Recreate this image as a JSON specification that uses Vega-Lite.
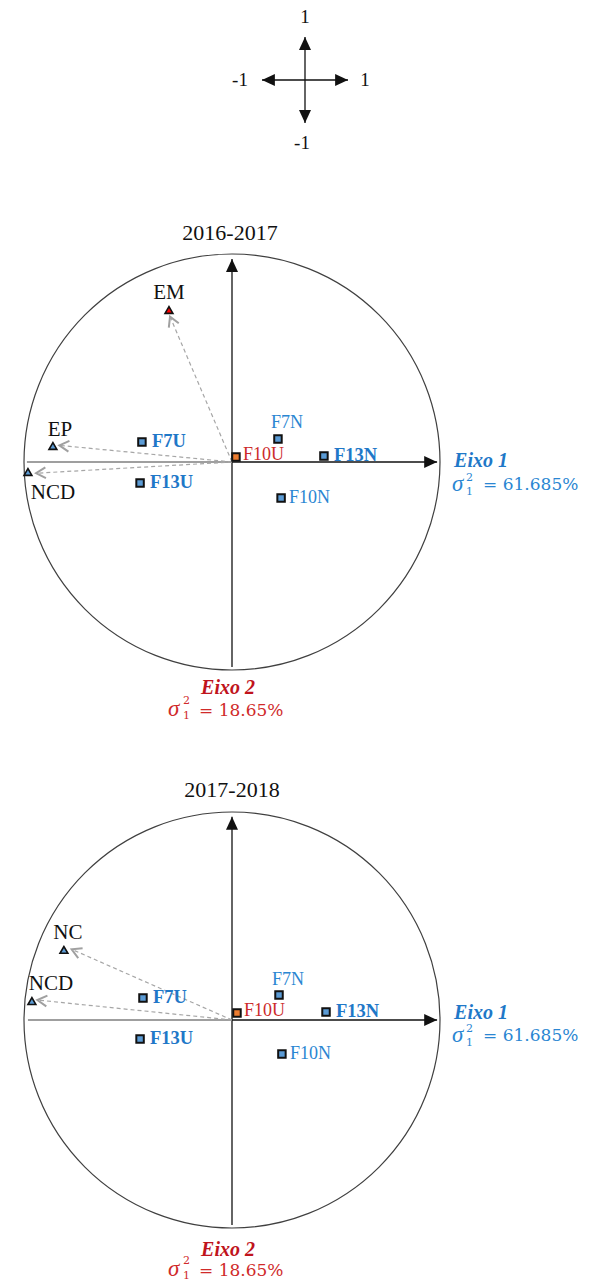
{
  "$schema": "https://vega.github.io/schema/vega-lite/v6.json",
  "padding": 0,
  "spacing": 0,
  "bounds": "flush",
  "background": "white",
  "config": {"view": {"stroke": null}, "concat": {"spacing": 0}},
  "resolve": {"scale": {"x": "independent", "y": "independent"}},
  "datasets": {
    "axesA": [{"x": -1, "y": 0, "x2": 1, "y2": 0}, {"x": 0, "y": -1, "x2": 0, "y2": 1}],
    "headsA": [{"x": 1, "y": 0, "dir": "right"}, {"x": -1, "y": 0, "dir": "left"}, {"x": 0, "y": 1, "dir": "up"}, {"x": 0, "y": -1, "dir": "down"}],
    "axes1": [{"x": -0.986, "y": 0, "x2": 0, "y2": 0}, {"x": 0, "y": 0, "x2": 0.986, "y2": 0}, {"x": 0, "y": -0.986, "x2": 0, "y2": 0.976}],
    "heads1": [{"x": 0.986, "y": 0, "dir": "right"}, {"x": 0, "y": 0.976, "dir": "up"}],
    "axes2": [{"x": -0.981, "y": 0, "x2": 0, "y2": 0}, {"x": 0, "y": 0, "x2": 0.986, "y2": 0}, {"x": 0, "y": -0.986, "x2": 0, "y2": 0.977}],
    "heads2": [{"x": 0.986, "y": 0, "dir": "right"}, {"x": 0, "y": 0.977, "dir": "up"}],
    "obs1": [
      {"name": "F7U", "x": -0.433, "y": 0.096},
      {"name": "F13U", "x": -0.442, "y": -0.101},
      {"name": "F10U", "x": 0.019, "y": 0.024},
      {"name": "F7N", "x": 0.221, "y": 0.111},
      {"name": "F13N", "x": 0.442, "y": 0.029},
      {"name": "F10N", "x": 0.236, "y": -0.173}
    ],
    "var1": [
      {"name": "EM", "x": -0.303, "y": 0.731, "hx": -0.298, "hy": 0.699, "ox": 0, "oy": 0},
      {"name": "EP", "x": -0.861, "y": 0.077, "hx": -0.83, "hy": 0.08, "ox": 0, "oy": 0},
      {"name": "NCD", "x": -0.981, "y": -0.048, "hx": -0.942, "hy": -0.054, "ox": 0, "oy": 0}
    ],
    "obs2": [
      {"name": "F7U", "x": -0.428, "y": 0.106},
      {"name": "F13U", "x": -0.442, "y": -0.091},
      {"name": "F10U", "x": 0.024, "y": 0.034},
      {"name": "F7N", "x": 0.226, "y": 0.12},
      {"name": "F13N", "x": 0.452, "y": 0.038},
      {"name": "F10N", "x": 0.24, "y": -0.163}
    ],
    "var2": [
      {"name": "NC", "x": -0.808, "y": 0.337, "hx": -0.771, "hy": 0.34, "ox": 0, "oy": 0},
      {"name": "NCD", "x": -0.962, "y": 0.091, "hx": -0.936, "hy": 0.096, "ox": 0, "oy": 0}
    ]
  },
  "vconcat": [
    {
      "width": 592, "height": 180,
      "layer": [
        {"data": {"name": "axesA"}, "mark": {"type": "rule", "color": "#111", "strokeWidth": 1.3},
         "encoding": {"x": {"field": "x", "type": "quantitative", "scale": {"domain": [-7.09302, 6.67442], "nice": false, "zero": false}, "axis": null},
                      "y": {"field": "y", "type": "quantitative", "scale": {"domain": [-2.32558, 1.86047], "nice": false, "zero": false}, "axis": null},
                      "x2": {"field": "x2"}, "y2": {"field": "y2"}}},
        {"data": {"name": "headsA"}, "mark": {"type": "point", "filled": true, "size": 36, "color": "#111", "opacity": 1},
         "encoding": {"x": {"field": "x", "type": "quantitative", "scale": {"domain": [-7.09302, 6.67442], "nice": false, "zero": false}, "axis": null},
                      "y": {"field": "y", "type": "quantitative", "scale": {"domain": [-2.32558, 1.86047], "nice": false, "zero": false}, "axis": null},
                      "shape": {"field": "dir", "type": "nominal", "legend": null, "scale": {"domain": ["right", "left", "up", "down"], "range": ["M0,0L-4.3,-2L-4.3,2Z", "M0,0L4.3,-2L4.3,2Z", "M0,0L-2,4.3L2,4.3Z", "M0,0L-2,-4.3L2,-4.3Z"]}}}},
        {"data": {"values": [{"t": "1"}]}, "mark": {"type": "text", "font": "Liberation Serif", "fontSize": 19, "color": "#111", "align": "center", "baseline": "middle", "dy": -20},
         "encoding": {"x": {"datum": 0, "type": "quantitative", "scale": {"domain": [-7.09302, 6.67442], "nice": false, "zero": false}, "axis": null},
                      "y": {"datum": 1, "type": "quantitative", "scale": {"domain": [-2.32558, 1.86047], "nice": false, "zero": false}, "axis": null},
                      "text": {"field": "t"}}},
        {"data": {"values": [{"t": "-1"}]}, "mark": {"type": "text", "font": "Liberation Serif", "fontSize": 19, "color": "#111", "align": "center", "baseline": "middle", "dx": -22},
         "encoding": {"x": {"datum": -1, "type": "quantitative", "scale": {"domain": [-7.09302, 6.67442], "nice": false, "zero": false}, "axis": null},
                      "y": {"datum": 0, "type": "quantitative", "scale": {"domain": [-2.32558, 1.86047], "nice": false, "zero": false}, "axis": null},
                      "text": {"field": "t"}}},
        {"data": {"values": [{"t": "1"}]}, "mark": {"type": "text", "font": "Liberation Serif", "fontSize": 19, "color": "#111", "align": "center", "baseline": "middle", "dx": 17},
         "encoding": {"x": {"datum": 1, "type": "quantitative", "scale": {"domain": [-7.09302, 6.67442], "nice": false, "zero": false}, "axis": null},
                      "y": {"datum": 0, "type": "quantitative", "scale": {"domain": [-2.32558, 1.86047], "nice": false, "zero": false}, "axis": null},
                      "text": {"field": "t"}}},
        {"data": {"values": [{"t": "-1"}]}, "mark": {"type": "text", "font": "Liberation Serif", "fontSize": 19, "color": "#111", "align": "center", "baseline": "middle", "dy": 20, "dx": -3},
         "encoding": {"x": {"datum": 0, "type": "quantitative", "scale": {"domain": [-7.09302, 6.67442], "nice": false, "zero": false}, "axis": null},
                      "y": {"datum": -1, "type": "quantitative", "scale": {"domain": [-2.32558, 1.86047], "nice": false, "zero": false}, "axis": null},
                      "text": {"field": "t"}}}
      ]
    },
    {
      "width": 592, "height": 555,
      "layer": [
        {"data": {"values": [{"x": 0, "y": 0}]}, "mark": {"type": "point", "shape": "circle", "size": 173056, "filled": false, "stroke": "#404040", "strokeWidth": 1.2, "opacity": 1},
         "encoding": {"x": {"field": "x", "type": "quantitative", "scale": {"domain": [-1.11538, 1.73077], "nice": false, "zero": false}, "axis": null},
                      "y": {"field": "y", "type": "quantitative", "scale": {"domain": [-1.3125, 1.35577], "nice": false, "zero": false}, "axis": null}}},
        {"data": {"name": "axes1"}, "mark": {"type": "rule", "strokeWidth": 1.3},
         "encoding": {"x": {"field": "x", "type": "quantitative", "scale": {"domain": [-1.11538, 1.73077], "nice": false, "zero": false}, "axis": null},
                      "y": {"field": "y", "type": "quantitative", "scale": {"domain": [-1.3125, 1.35577], "nice": false, "zero": false}, "axis": null},
                      "x2": {"field": "x2"}, "y2": {"field": "y2"},
                      "color": {"condition": {"test": "datum.x < 0", "value": "#7f7f7f"}, "value": "#111"}}},
        {"data": {"name": "heads1"}, "mark": {"type": "point", "filled": true, "size": 36, "color": "#111", "opacity": 1},
         "encoding": {"x": {"field": "x", "type": "quantitative", "scale": {"domain": [-1.11538, 1.73077], "nice": false, "zero": false}, "axis": null},
                      "y": {"field": "y", "type": "quantitative", "scale": {"domain": [-1.3125, 1.35577], "nice": false, "zero": false}, "axis": null},
                      "shape": {"field": "dir", "type": "nominal", "legend": null, "scale": {"domain": ["right", "left", "up", "down"], "range": ["M0,0L-4.3,-2L-4.3,2Z", "M0,0L4.3,-2L4.3,2Z", "M0,0L-2,4.3L2,4.3Z", "M0,0L-2,-4.3L2,-4.3Z"]}}}},
        {"data": {"name": "var1"}, "mark": {"type": "rule", "color": "#a6a6a6", "strokeWidth": 1.2, "strokeDash": [4, 3]},
         "encoding": {"x": {"field": "ox", "type": "quantitative", "scale": {"domain": [-1.11538, 1.73077], "nice": false, "zero": false}, "axis": null},
                      "y": {"field": "oy", "type": "quantitative", "scale": {"domain": [-1.3125, 1.35577], "nice": false, "zero": false}, "axis": null},
                      "x2": {"field": "hx"}, "y2": {"field": "hy"}}},
        {"data": {"name": "var1"}, "transform": [{"calculate": "-atan2(datum.hy, datum.hx) * 180 / PI", "as": "ang"}],
         "mark": {"type": "point", "shape": "M-3.2,-1.8L0,0L-3.2,1.8", "filled": false, "size": 36, "stroke": "#a0a0a0", "strokeWidth": 2, "opacity": 1},
         "encoding": {"x": {"field": "hx", "type": "quantitative", "scale": {"domain": [-1.11538, 1.73077], "nice": false, "zero": false}, "axis": null},
                      "y": {"field": "hy", "type": "quantitative", "scale": {"domain": [-1.3125, 1.35577], "nice": false, "zero": false}, "axis": null},
                      "angle": {"field": "ang", "type": "quantitative", "scale": null}}},
        {"data": {"name": "obs1"}, "mark": {"type": "point", "shape": "square", "filled": true, "size": 56, "stroke": "#111", "strokeWidth": 2, "opacity": 1},
         "encoding": {"x": {"field": "x", "type": "quantitative", "scale": {"domain": [-1.11538, 1.73077], "nice": false, "zero": false}, "axis": null},
                      "y": {"field": "y", "type": "quantitative", "scale": {"domain": [-1.3125, 1.35577], "nice": false, "zero": false}, "axis": null},
                      "fill": {"condition": {"test": "datum.name === 'F10U'", "value": "#ED7D31"}, "value": "#5B9BD5"}}},
        {"data": {"name": "var1"}, "mark": {"type": "point", "shape": "triangle-up", "filled": true, "size": 62, "stroke": "#111", "strokeWidth": 1.6, "opacity": 1},
         "encoding": {"x": {"field": "x", "type": "quantitative", "scale": {"domain": [-1.11538, 1.73077], "nice": false, "zero": false}, "axis": null},
                      "y": {"field": "y", "type": "quantitative", "scale": {"domain": [-1.3125, 1.35577], "nice": false, "zero": false}, "axis": null},
                      "fill": {"condition": {"test": "datum.name === 'EM'", "value": "#FF0000"}, "value": "#5B9BD5"}}},
        {"data": {"name": "obs1"}, "transform": [{"filter": {"field": "name", "oneOf": ["F7U", "F13U", "F13N"]}}],
         "mark": {"type": "text", "font": "Liberation Serif", "fontSize": 18.5, "fontWeight": "bold", "color": "#1f78c8", "align": "left", "baseline": "middle", "dx": 10, "dy": -1},
         "encoding": {"x": {"field": "x", "type": "quantitative", "scale": {"domain": [-1.11538, 1.73077], "nice": false, "zero": false}, "axis": null},
                      "y": {"field": "y", "type": "quantitative", "scale": {"domain": [-1.3125, 1.35577], "nice": false, "zero": false}, "axis": null},
                      "text": {"field": "name"}}},
        {"data": {"name": "obs1"}, "transform": [{"filter": {"field": "name", "oneOf": ["F10N"]}}],
         "mark": {"type": "text", "font": "Liberation Serif", "fontSize": 18, "color": "#2a86d2", "align": "left", "baseline": "middle", "dx": 8},
         "encoding": {"x": {"field": "x", "type": "quantitative", "scale": {"domain": [-1.11538, 1.73077], "nice": false, "zero": false}, "axis": null},
                      "y": {"field": "y", "type": "quantitative", "scale": {"domain": [-1.3125, 1.35577], "nice": false, "zero": false}, "axis": null},
                      "text": {"field": "name"}}},
        {"data": {"name": "obs1"}, "transform": [{"filter": {"field": "name", "oneOf": ["F10U"]}}],
         "mark": {"type": "text", "font": "Liberation Serif", "fontSize": 18, "color": "#cc2a2a", "align": "left", "baseline": "middle", "dx": 7, "dy": -2},
         "encoding": {"x": {"field": "x", "type": "quantitative", "scale": {"domain": [-1.11538, 1.73077], "nice": false, "zero": false}, "axis": null},
                      "y": {"field": "y", "type": "quantitative", "scale": {"domain": [-1.3125, 1.35577], "nice": false, "zero": false}, "axis": null},
                      "text": {"field": "name"}}},
        {"data": {"name": "obs1"}, "transform": [{"filter": {"field": "name", "oneOf": ["F7N"]}}],
         "mark": {"type": "text", "font": "Liberation Serif", "fontSize": 18, "color": "#2a86d2", "align": "left", "baseline": "middle", "dx": -7, "dy": -16},
         "encoding": {"x": {"field": "x", "type": "quantitative", "scale": {"domain": [-1.11538, 1.73077], "nice": false, "zero": false}, "axis": null},
                      "y": {"field": "y", "type": "quantitative", "scale": {"domain": [-1.3125, 1.35577], "nice": false, "zero": false}, "axis": null},
                      "text": {"field": "name"}}},
        {"data": {"name": "var1"}, "transform": [{"filter": {"field": "name", "oneOf": ["EM"]}}],
         "mark": {"type": "text", "font": "Liberation Serif", "fontSize": 21, "color": "#111", "align": "center", "baseline": "middle", "dx": 0, "dy": -17},
         "encoding": {"x": {"field": "x", "type": "quantitative", "scale": {"domain": [-1.11538, 1.73077], "nice": false, "zero": false}, "axis": null},
                      "y": {"field": "y", "type": "quantitative", "scale": {"domain": [-1.3125, 1.35577], "nice": false, "zero": false}, "axis": null},
                      "text": {"field": "name"}}},
        {"data": {"name": "var1"}, "transform": [{"filter": {"field": "name", "oneOf": ["EP"]}}],
         "mark": {"type": "text", "font": "Liberation Serif", "fontSize": 21, "color": "#111", "align": "center", "baseline": "middle", "dx": 7, "dy": -16},
         "encoding": {"x": {"field": "x", "type": "quantitative", "scale": {"domain": [-1.11538, 1.73077], "nice": false, "zero": false}, "axis": null},
                      "y": {"field": "y", "type": "quantitative", "scale": {"domain": [-1.3125, 1.35577], "nice": false, "zero": false}, "axis": null},
                      "text": {"field": "name"}}},
        {"data": {"name": "var1"}, "transform": [{"filter": {"field": "name", "oneOf": ["NCD"]}}],
         "mark": {"type": "text", "font": "Liberation Serif", "fontSize": 21, "color": "#111", "align": "center", "baseline": "middle", "dx": 25, "dy": 21},
         "encoding": {"x": {"field": "x", "type": "quantitative", "scale": {"domain": [-1.11538, 1.73077], "nice": false, "zero": false}, "axis": null},
                      "y": {"field": "y", "type": "quantitative", "scale": {"domain": [-1.3125, 1.35577], "nice": false, "zero": false}, "axis": null},
                      "text": {"field": "name"}}},
        {"data": {"values": [{"t": "2016-2017"}]}, "mark": {"type": "text", "font": "Liberation Serif", "fontSize": 22, "color": "#111", "align": "center", "baseline": "middle", "dx": -2, "dy": -21},
         "encoding": {"x": {"datum": 0, "type": "quantitative", "scale": {"domain": [-1.11538, 1.73077], "nice": false, "zero": false}, "axis": null},
                      "y": {"datum": 1, "type": "quantitative", "scale": {"domain": [-1.3125, 1.35577], "nice": false, "zero": false}, "axis": null},
                      "text": {"field": "t"}}},
        {"data": {"values": [{"t": "Eixo 1"}]}, "mark": {"type": "text", "font": "Liberation Serif", "fontSize": 20, "fontWeight": "bold", "fontStyle": "italic", "color": "#1f78c8", "align": "left", "baseline": "middle", "dx": 17, "dy": -1},
         "encoding": {"x": {"datum": 0.986, "type": "quantitative", "scale": {"domain": [-1.11538, 1.73077], "nice": false, "zero": false}, "axis": null},
                      "y": {"datum": 0, "type": "quantitative", "scale": {"domain": [-1.3125, 1.35577], "nice": false, "zero": false}, "axis": null},
                      "text": {"field": "t"}}},
        {"data": {"values": [{"t": "σ"}]}, "mark": {"type": "text", "font": "Liberation Serif", "fontSize": 23, "fontStyle": "italic", "color": "#2a86d2", "align": "left", "baseline": "middle", "dx": 15, "dy": 22},
         "encoding": {"x": {"datum": 0.986, "type": "quantitative", "scale": {"domain": [-1.11538, 1.73077], "nice": false, "zero": false}, "axis": null},
                      "y": {"datum": 0, "type": "quantitative", "scale": {"domain": [-1.3125, 1.35577], "nice": false, "zero": false}, "axis": null},
                      "text": {"field": "t"}}},
        {"data": {"values": [{"t": "2"}]}, "mark": {"type": "text", "font": "DejaVu Serif", "fontSize": 11, "color": "#2a86d2", "align": "left", "baseline": "middle", "dx": 29, "dy": 16},
         "encoding": {"x": {"datum": 0.986, "type": "quantitative", "scale": {"domain": [-1.11538, 1.73077], "nice": false, "zero": false}, "axis": null},
                      "y": {"datum": 0, "type": "quantitative", "scale": {"domain": [-1.3125, 1.35577], "nice": false, "zero": false}, "axis": null},
                      "text": {"field": "t"}}},
        {"data": {"values": [{"t": "1"}]}, "mark": {"type": "text", "font": "DejaVu Serif", "fontSize": 11, "color": "#2a86d2", "align": "left", "baseline": "middle", "dx": 29, "dy": 30},
         "encoding": {"x": {"datum": 0.986, "type": "quantitative", "scale": {"domain": [-1.11538, 1.73077], "nice": false, "zero": false}, "axis": null},
                      "y": {"datum": 0, "type": "quantitative", "scale": {"domain": [-1.3125, 1.35577], "nice": false, "zero": false}, "axis": null},
                      "text": {"field": "t"}}},
        {"data": {"values": [{"t": "= 61.685%"}]}, "mark": {"type": "text", "font": "DejaVu Serif", "fontSize": 17, "color": "#2a86d2", "align": "left", "baseline": "middle", "dx": 46, "dy": 23},
         "encoding": {"x": {"datum": 0.986, "type": "quantitative", "scale": {"domain": [-1.11538, 1.73077], "nice": false, "zero": false}, "axis": null},
                      "y": {"datum": 0, "type": "quantitative", "scale": {"domain": [-1.3125, 1.35577], "nice": false, "zero": false}, "axis": null},
                      "text": {"field": "t"}}},
        {"data": {"values": [{"t": "Eixo 2"}]}, "mark": {"type": "text", "font": "Liberation Serif", "fontSize": 20, "fontWeight": "bold", "fontStyle": "italic", "color": "#c0141c", "align": "center", "baseline": "middle", "dx": -4, "dy": 18},
         "encoding": {"x": {"datum": 0, "type": "quantitative", "scale": {"domain": [-1.11538, 1.73077], "nice": false, "zero": false}, "axis": null},
                      "y": {"datum": -1, "type": "quantitative", "scale": {"domain": [-1.3125, 1.35577], "nice": false, "zero": false}, "axis": null},
                      "text": {"field": "t"}}},
        {"data": {"values": [{"t": "σ"}]}, "mark": {"type": "text", "font": "Liberation Serif", "fontSize": 23, "fontStyle": "italic", "color": "#d02a2a", "align": "left", "baseline": "middle", "dx": -64, "dy": 39},
         "encoding": {"x": {"datum": 0, "type": "quantitative", "scale": {"domain": [-1.11538, 1.73077], "nice": false, "zero": false}, "axis": null},
                      "y": {"datum": -1, "type": "quantitative", "scale": {"domain": [-1.3125, 1.35577], "nice": false, "zero": false}, "axis": null},
                      "text": {"field": "t"}}},
        {"data": {"values": [{"t": "2"}]}, "mark": {"type": "text", "font": "DejaVu Serif", "fontSize": 11, "color": "#d02a2a", "align": "left", "baseline": "middle", "dx": -49, "dy": 31},
         "encoding": {"x": {"datum": 0, "type": "quantitative", "scale": {"domain": [-1.11538, 1.73077], "nice": false, "zero": false}, "axis": null},
                      "y": {"datum": -1, "type": "quantitative", "scale": {"domain": [-1.3125, 1.35577], "nice": false, "zero": false}, "axis": null},
                      "text": {"field": "t"}}},
        {"data": {"values": [{"t": "1"}]}, "mark": {"type": "text", "font": "DejaVu Serif", "fontSize": 11, "color": "#d02a2a", "align": "left", "baseline": "middle", "dx": -49, "dy": 46},
         "encoding": {"x": {"datum": 0, "type": "quantitative", "scale": {"domain": [-1.11538, 1.73077], "nice": false, "zero": false}, "axis": null},
                      "y": {"datum": -1, "type": "quantitative", "scale": {"domain": [-1.3125, 1.35577], "nice": false, "zero": false}, "axis": null},
                      "text": {"field": "t"}}},
        {"data": {"values": [{"t": "= 18.65%"}]}, "mark": {"type": "text", "font": "DejaVu Serif", "fontSize": 17, "color": "#d02a2a", "align": "left", "baseline": "middle", "dx": -33, "dy": 41},
         "encoding": {"x": {"datum": 0, "type": "quantitative", "scale": {"domain": [-1.11538, 1.73077], "nice": false, "zero": false}, "axis": null},
                      "y": {"datum": -1, "type": "quantitative", "scale": {"domain": [-1.3125, 1.35577], "nice": false, "zero": false}, "axis": null},
                      "text": {"field": "t"}}}
      ]
    },
    {
      "width": 592, "height": 552,
      "layer": [
        {"data": {"values": [{"x": 0, "y": 0}]}, "mark": {"type": "point", "shape": "circle", "size": 173056, "filled": false, "stroke": "#404040", "strokeWidth": 1.2, "opacity": 1},
         "encoding": {"x": {"field": "x", "type": "quantitative", "scale": {"domain": [-1.11538, 1.73077], "nice": false, "zero": false}, "axis": null},
                      "y": {"field": "y", "type": "quantitative", "scale": {"domain": [-1.28365, 1.37019], "nice": false, "zero": false}, "axis": null}}},
        {"data": {"name": "axes2"}, "mark": {"type": "rule", "strokeWidth": 1.3},
         "encoding": {"x": {"field": "x", "type": "quantitative", "scale": {"domain": [-1.11538, 1.73077], "nice": false, "zero": false}, "axis": null},
                      "y": {"field": "y", "type": "quantitative", "scale": {"domain": [-1.28365, 1.37019], "nice": false, "zero": false}, "axis": null},
                      "x2": {"field": "x2"}, "y2": {"field": "y2"},
                      "color": {"condition": {"test": "datum.x < 0", "value": "#7f7f7f"}, "value": "#111"}}},
        {"data": {"name": "heads2"}, "mark": {"type": "point", "filled": true, "size": 36, "color": "#111", "opacity": 1},
         "encoding": {"x": {"field": "x", "type": "quantitative", "scale": {"domain": [-1.11538, 1.73077], "nice": false, "zero": false}, "axis": null},
                      "y": {"field": "y", "type": "quantitative", "scale": {"domain": [-1.28365, 1.37019], "nice": false, "zero": false}, "axis": null},
                      "shape": {"field": "dir", "type": "nominal", "legend": null, "scale": {"domain": ["right", "left", "up", "down"], "range": ["M0,0L-4.3,-2L-4.3,2Z", "M0,0L4.3,-2L4.3,2Z", "M0,0L-2,4.3L2,4.3Z", "M0,0L-2,-4.3L2,-4.3Z"]}}}},
        {"data": {"name": "var2"}, "mark": {"type": "rule", "color": "#a6a6a6", "strokeWidth": 1.2, "strokeDash": [4, 3]},
         "encoding": {"x": {"field": "ox", "type": "quantitative", "scale": {"domain": [-1.11538, 1.73077], "nice": false, "zero": false}, "axis": null},
                      "y": {"field": "oy", "type": "quantitative", "scale": {"domain": [-1.28365, 1.37019], "nice": false, "zero": false}, "axis": null},
                      "x2": {"field": "hx"}, "y2": {"field": "hy"}}},
        {"data": {"name": "var2"}, "transform": [{"calculate": "-atan2(datum.hy, datum.hx) * 180 / PI", "as": "ang"}],
         "mark": {"type": "point", "shape": "M-3.2,-1.8L0,0L-3.2,1.8", "filled": false, "size": 36, "stroke": "#a0a0a0", "strokeWidth": 2, "opacity": 1},
         "encoding": {"x": {"field": "hx", "type": "quantitative", "scale": {"domain": [-1.11538, 1.73077], "nice": false, "zero": false}, "axis": null},
                      "y": {"field": "hy", "type": "quantitative", "scale": {"domain": [-1.28365, 1.37019], "nice": false, "zero": false}, "axis": null},
                      "angle": {"field": "ang", "type": "quantitative", "scale": null}}},
        {"data": {"name": "obs2"}, "mark": {"type": "point", "shape": "square", "filled": true, "size": 56, "stroke": "#111", "strokeWidth": 2, "opacity": 1},
         "encoding": {"x": {"field": "x", "type": "quantitative", "scale": {"domain": [-1.11538, 1.73077], "nice": false, "zero": false}, "axis": null},
                      "y": {"field": "y", "type": "quantitative", "scale": {"domain": [-1.28365, 1.37019], "nice": false, "zero": false}, "axis": null},
                      "fill": {"condition": {"test": "datum.name === 'F10U'", "value": "#ED7D31"}, "value": "#5B9BD5"}}},
        {"data": {"name": "var2"}, "mark": {"type": "point", "shape": "triangle-up", "filled": true, "size": 62, "stroke": "#111", "strokeWidth": 1.6, "opacity": 1, "fill": "#5B9BD5"},
         "encoding": {"x": {"field": "x", "type": "quantitative", "scale": {"domain": [-1.11538, 1.73077], "nice": false, "zero": false}, "axis": null},
                      "y": {"field": "y", "type": "quantitative", "scale": {"domain": [-1.28365, 1.37019], "nice": false, "zero": false}, "axis": null}}},
        {"data": {"name": "obs2"}, "transform": [{"filter": {"field": "name", "oneOf": ["F7U", "F13U", "F13N"]}}],
         "mark": {"type": "text", "font": "Liberation Serif", "fontSize": 18.5, "fontWeight": "bold", "color": "#1f78c8", "align": "left", "baseline": "middle", "dx": 10, "dy": -1},
         "encoding": {"x": {"field": "x", "type": "quantitative", "scale": {"domain": [-1.11538, 1.73077], "nice": false, "zero": false}, "axis": null},
                      "y": {"field": "y", "type": "quantitative", "scale": {"domain": [-1.28365, 1.37019], "nice": false, "zero": false}, "axis": null},
                      "text": {"field": "name"}}},
        {"data": {"name": "obs2"}, "transform": [{"filter": {"field": "name", "oneOf": ["F10N"]}}],
         "mark": {"type": "text", "font": "Liberation Serif", "fontSize": 18, "color": "#2a86d2", "align": "left", "baseline": "middle", "dx": 8},
         "encoding": {"x": {"field": "x", "type": "quantitative", "scale": {"domain": [-1.11538, 1.73077], "nice": false, "zero": false}, "axis": null},
                      "y": {"field": "y", "type": "quantitative", "scale": {"domain": [-1.28365, 1.37019], "nice": false, "zero": false}, "axis": null},
                      "text": {"field": "name"}}},
        {"data": {"name": "obs2"}, "transform": [{"filter": {"field": "name", "oneOf": ["F10U"]}}],
         "mark": {"type": "text", "font": "Liberation Serif", "fontSize": 18, "color": "#cc2a2a", "align": "left", "baseline": "middle", "dx": 7, "dy": -2},
         "encoding": {"x": {"field": "x", "type": "quantitative", "scale": {"domain": [-1.11538, 1.73077], "nice": false, "zero": false}, "axis": null},
                      "y": {"field": "y", "type": "quantitative", "scale": {"domain": [-1.28365, 1.37019], "nice": false, "zero": false}, "axis": null},
                      "text": {"field": "name"}}},
        {"data": {"name": "obs2"}, "transform": [{"filter": {"field": "name", "oneOf": ["F7N"]}}],
         "mark": {"type": "text", "font": "Liberation Serif", "fontSize": 18, "color": "#2a86d2", "align": "left", "baseline": "middle", "dx": -7, "dy": -15},
         "encoding": {"x": {"field": "x", "type": "quantitative", "scale": {"domain": [-1.11538, 1.73077], "nice": false, "zero": false}, "axis": null},
                      "y": {"field": "y", "type": "quantitative", "scale": {"domain": [-1.28365, 1.37019], "nice": false, "zero": false}, "axis": null},
                      "text": {"field": "name"}}},
        {"data": {"name": "var2"}, "transform": [{"filter": {"field": "name", "oneOf": ["NC"]}}],
         "mark": {"type": "text", "font": "Liberation Serif", "fontSize": 21, "color": "#111", "align": "center", "baseline": "middle", "dx": 4, "dy": -17},
         "encoding": {"x": {"field": "x", "type": "quantitative", "scale": {"domain": [-1.11538, 1.73077], "nice": false, "zero": false}, "axis": null},
                      "y": {"field": "y", "type": "quantitative", "scale": {"domain": [-1.28365, 1.37019], "nice": false, "zero": false}, "axis": null},
                      "text": {"field": "name"}}},
        {"data": {"name": "var2"}, "transform": [{"filter": {"field": "name", "oneOf": ["NCD"]}}],
         "mark": {"type": "text", "font": "Liberation Serif", "fontSize": 21, "color": "#111", "align": "center", "baseline": "middle", "dx": 19, "dy": -17},
         "encoding": {"x": {"field": "x", "type": "quantitative", "scale": {"domain": [-1.11538, 1.73077], "nice": false, "zero": false}, "axis": null},
                      "y": {"field": "y", "type": "quantitative", "scale": {"domain": [-1.28365, 1.37019], "nice": false, "zero": false}, "axis": null},
                      "text": {"field": "name"}}},
        {"data": {"values": [{"t": "2017-2018"}]}, "mark": {"type": "text", "font": "Liberation Serif", "fontSize": 22, "color": "#111", "align": "center", "baseline": "middle", "dx": 0, "dy": -22},
         "encoding": {"x": {"datum": 0, "type": "quantitative", "scale": {"domain": [-1.11538, 1.73077], "nice": false, "zero": false}, "axis": null},
                      "y": {"datum": 1, "type": "quantitative", "scale": {"domain": [-1.28365, 1.37019], "nice": false, "zero": false}, "axis": null},
                      "text": {"field": "t"}}},
        {"data": {"values": [{"t": "Eixo 1"}]}, "mark": {"type": "text", "font": "Liberation Serif", "fontSize": 20, "fontWeight": "bold", "fontStyle": "italic", "color": "#1f78c8", "align": "left", "baseline": "middle", "dx": 17, "dy": -7},
         "encoding": {"x": {"datum": 0.986, "type": "quantitative", "scale": {"domain": [-1.11538, 1.73077], "nice": false, "zero": false}, "axis": null},
                      "y": {"datum": 0, "type": "quantitative", "scale": {"domain": [-1.28365, 1.37019], "nice": false, "zero": false}, "axis": null},
                      "text": {"field": "t"}}},
        {"data": {"values": [{"t": "σ"}]}, "mark": {"type": "text", "font": "Liberation Serif", "fontSize": 23, "fontStyle": "italic", "color": "#2a86d2", "align": "left", "baseline": "middle", "dx": 15, "dy": 15},
         "encoding": {"x": {"datum": 0.986, "type": "quantitative", "scale": {"domain": [-1.11538, 1.73077], "nice": false, "zero": false}, "axis": null},
                      "y": {"datum": 0, "type": "quantitative", "scale": {"domain": [-1.28365, 1.37019], "nice": false, "zero": false}, "axis": null},
                      "text": {"field": "t"}}},
        {"data": {"values": [{"t": "2"}]}, "mark": {"type": "text", "font": "DejaVu Serif", "fontSize": 11, "color": "#2a86d2", "align": "left", "baseline": "middle", "dx": 29, "dy": 9},
         "encoding": {"x": {"datum": 0.986, "type": "quantitative", "scale": {"domain": [-1.11538, 1.73077], "nice": false, "zero": false}, "axis": null},
                      "y": {"datum": 0, "type": "quantitative", "scale": {"domain": [-1.28365, 1.37019], "nice": false, "zero": false}, "axis": null},
                      "text": {"field": "t"}}},
        {"data": {"values": [{"t": "1"}]}, "mark": {"type": "text", "font": "DejaVu Serif", "fontSize": 11, "color": "#2a86d2", "align": "left", "baseline": "middle", "dx": 29, "dy": 23},
         "encoding": {"x": {"datum": 0.986, "type": "quantitative", "scale": {"domain": [-1.11538, 1.73077], "nice": false, "zero": false}, "axis": null},
                      "y": {"datum": 0, "type": "quantitative", "scale": {"domain": [-1.28365, 1.37019], "nice": false, "zero": false}, "axis": null},
                      "text": {"field": "t"}}},
        {"data": {"values": [{"t": "= 61.685%"}]}, "mark": {"type": "text", "font": "DejaVu Serif", "fontSize": 17, "color": "#2a86d2", "align": "left", "baseline": "middle", "dx": 46, "dy": 16},
         "encoding": {"x": {"datum": 0.986, "type": "quantitative", "scale": {"domain": [-1.11538, 1.73077], "nice": false, "zero": false}, "axis": null},
                      "y": {"datum": 0, "type": "quantitative", "scale": {"domain": [-1.28365, 1.37019], "nice": false, "zero": false}, "axis": null},
                      "text": {"field": "t"}}},
        {"data": {"values": [{"t": "Eixo 2"}]}, "mark": {"type": "text", "font": "Liberation Serif", "fontSize": 20, "fontWeight": "bold", "fontStyle": "italic", "color": "#c0141c", "align": "center", "baseline": "middle", "dx": -4, "dy": 22},
         "encoding": {"x": {"datum": 0, "type": "quantitative", "scale": {"domain": [-1.11538, 1.73077], "nice": false, "zero": false}, "axis": null},
                      "y": {"datum": -1, "type": "quantitative", "scale": {"domain": [-1.28365, 1.37019], "nice": false, "zero": false}, "axis": null},
                      "text": {"field": "t"}}},
        {"data": {"values": [{"t": "σ"}]}, "mark": {"type": "text", "font": "Liberation Serif", "fontSize": 23, "fontStyle": "italic", "color": "#d02a2a", "align": "left", "baseline": "middle", "dx": -64, "dy": 41},
         "encoding": {"x": {"datum": 0, "type": "quantitative", "scale": {"domain": [-1.11538, 1.73077], "nice": false, "zero": false}, "axis": null},
                      "y": {"datum": -1, "type": "quantitative", "scale": {"domain": [-1.28365, 1.37019], "nice": false, "zero": false}, "axis": null},
                      "text": {"field": "t"}}},
        {"data": {"values": [{"t": "2"}]}, "mark": {"type": "text", "font": "DejaVu Serif", "fontSize": 11, "color": "#d02a2a", "align": "left", "baseline": "middle", "dx": -49, "dy": 33},
         "encoding": {"x": {"datum": 0, "type": "quantitative", "scale": {"domain": [-1.11538, 1.73077], "nice": false, "zero": false}, "axis": null},
                      "y": {"datum": -1, "type": "quantitative", "scale": {"domain": [-1.28365, 1.37019], "nice": false, "zero": false}, "axis": null},
                      "text": {"field": "t"}}},
        {"data": {"values": [{"t": "1"}]}, "mark": {"type": "text", "font": "DejaVu Serif", "fontSize": 11, "color": "#d02a2a", "align": "left", "baseline": "middle", "dx": -49, "dy": 48},
         "encoding": {"x": {"datum": 0, "type": "quantitative", "scale": {"domain": [-1.11538, 1.73077], "nice": false, "zero": false}, "axis": null},
                      "y": {"datum": -1, "type": "quantitative", "scale": {"domain": [-1.28365, 1.37019], "nice": false, "zero": false}, "axis": null},
                      "text": {"field": "t"}}},
        {"data": {"values": [{"t": "= 18.65%"}]}, "mark": {"type": "text", "font": "DejaVu Serif", "fontSize": 17, "color": "#d02a2a", "align": "left", "baseline": "middle", "dx": -33, "dy": 43},
         "encoding": {"x": {"datum": 0, "type": "quantitative", "scale": {"domain": [-1.11538, 1.73077], "nice": false, "zero": false}, "axis": null},
                      "y": {"datum": -1, "type": "quantitative", "scale": {"domain": [-1.28365, 1.37019], "nice": false, "zero": false}, "axis": null},
                      "text": {"field": "t"}}}
      ]
    }
  ]
}
